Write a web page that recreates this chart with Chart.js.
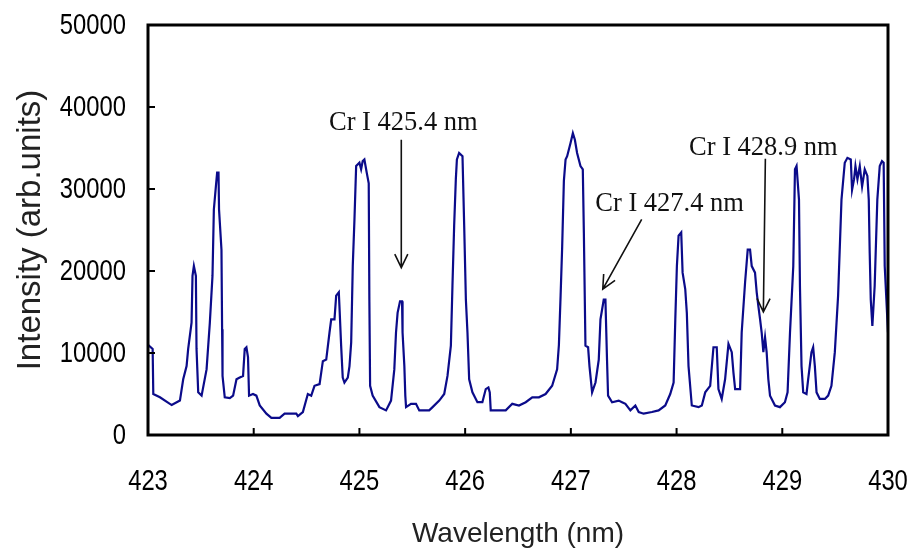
<!DOCTYPE html>
<html>
<head>
<meta charset="utf-8">
<title>Cr I emission spectrum</title>
<script src="https://cdn.jsdelivr.net/npm/chart.js@4.4.1/dist/chart.umd.min.js"></script>
<style>
    html, body { margin: 0; padding: 0; background: #fff; }
    #wrap { width: 916px; height: 559px; }
</style>
</head>
<body>
<div id="wrap"><canvas id="spectrum" width="916" height="559"></canvas></div>
<script>
// wavelength (nm) and intensity (arb. units) of the measured spectrum
var wavelength = [
    423.000, 423.044, 423.050, 423.113, 423.224, 423.302, 423.333, 423.365, 423.380, 423.412,
    423.421, 423.434, 423.453, 423.459, 423.475, 423.507, 423.554, 423.585, 423.610, 423.623,
    423.642, 423.654, 423.667, 423.672, 423.695, 423.701, 423.705, 423.726, 423.774, 423.805,
    423.837, 423.868, 423.899, 423.915, 423.931, 423.946, 423.956, 423.993, 424.025, 424.057,
    424.120, 424.167, 424.245, 424.292, 424.340, 424.403, 424.418, 424.465, 424.512, 424.544,
    424.575, 424.623, 424.654, 424.686, 424.717, 424.733, 424.764, 424.780, 424.805, 424.811,
    424.827, 424.842, 424.858, 424.890, 424.906, 424.922, 424.937, 424.953, 424.969, 425.000,
    425.016, 425.031, 425.047, 425.069, 425.088, 425.094, 425.101, 425.125, 425.189, 425.252,
    425.299, 425.330, 425.346, 425.361, 425.384, 425.403, 425.408, 425.425, 425.434, 425.441,
    425.488, 425.535, 425.566, 425.660, 425.692, 425.755, 425.802, 425.833, 425.865, 425.880,
    425.896, 425.912, 425.922, 425.943, 425.975, 425.991, 426.007, 426.022, 426.038, 426.069,
    426.116, 426.163, 426.195, 426.220, 426.233, 426.242, 426.321, 426.384, 426.446, 426.509,
    426.573, 426.635, 426.698, 426.761, 426.823, 426.870, 426.887, 426.903, 426.918, 426.934,
    426.950, 426.965, 426.997, 427.019, 427.038, 427.059, 427.091, 427.113, 427.123, 427.138,
    427.163, 427.176, 427.201, 427.233, 427.264, 427.280, 427.311, 427.327, 427.342, 427.352,
    427.390, 427.453, 427.484, 427.516, 427.563, 427.610, 427.642, 427.689, 427.767, 427.830,
    427.893, 427.940, 427.972, 427.988, 428.003, 428.019, 428.044, 428.057, 428.082, 428.097,
    428.113, 428.144, 428.208, 428.239, 428.271, 428.318, 428.349, 428.380, 428.396, 428.427,
    428.459, 428.491, 428.522, 428.538, 428.554, 428.601, 428.616, 428.648, 428.673, 428.695,
    428.711, 428.742, 428.758, 428.774, 428.790, 428.805, 428.821, 428.837, 428.852, 428.868,
    428.884, 428.931, 428.978, 429.025, 429.050, 429.073, 429.104, 429.120, 429.135, 429.158,
    429.167, 429.182, 429.198, 429.229, 429.245, 429.276, 429.292, 429.308, 429.324, 429.355,
    429.403, 429.434, 429.465, 429.497, 429.528, 429.560, 429.591, 429.616, 429.648, 429.660,
    429.679, 429.692, 429.711, 429.733, 429.755, 429.780, 429.805, 429.818, 429.827, 429.837,
    429.852, 429.874, 429.899, 429.922, 429.943, 429.959, 429.969, 430.000
];
var intensity = [
    11000, 10500, 5000, 4600, 3650, 4200, 6800, 8400, 10500, 13700,
    19400, 20600, 19400, 10500, 5200, 4800, 8000, 13700, 19400, 27500,
    30300, 32000, 32000, 27500, 22600, 12900, 7200, 4600, 4500, 4800,
    6800, 7000, 7200, 10500, 10700, 9500, 4800, 5000, 4800, 3600,
    2600, 2100, 2100, 2600, 2600, 2600, 2300, 2800, 5000, 4800,
    6000, 6200, 9000, 9200, 12500, 14100, 14100, 17000, 17400, 15700,
    10900, 7000, 6400, 7000, 8400, 11300, 20600, 26300, 32800, 33200,
    32400, 33400, 33600, 32000, 30700, 16500, 6000, 4800, 3400, 3000,
    4200, 8000, 12500, 14900, 16300, 16300, 12500, 8400, 4800, 3400,
    3800, 3800, 3000, 3000, 3400, 4200, 5000, 7200, 10900, 18200,
    25500, 31200, 33600, 34400, 34000, 25500, 16500, 12500, 6800, 5200,
    4000, 4000, 5600, 5800, 5200, 3000, 3000, 3000, 3800, 3600,
    4000, 4600, 4600, 5000, 6000, 8000, 11000, 17000, 23000, 31000,
    33600, 34000, 35600, 36800, 36000, 34400, 32800, 32400, 24700, 10900,
    10700, 8400, 5200, 6400, 9200, 14100, 16500, 16500, 9200, 4800,
    4000, 4200, 4000, 3800, 3000, 3600, 2800, 2600, 2800, 3000,
    3600, 5000, 6400, 14100, 20600, 24300, 24700, 19800, 17800, 14900,
    8400, 3600, 3400, 3600, 5200, 6000, 10700, 10700, 5600, 4400,
    6800, 11100, 10100, 7600, 5600, 5600, 12500, 18600, 22600, 22600,
    20600, 19800, 17400, 15700, 14100, 12500, 10100, 11900, 10100, 6800,
    4800, 3600, 3400, 4000, 5200, 12500, 20600, 32400, 32800, 28700,
    18200, 8400, 5200, 5000, 6800, 10100, 10700, 8400, 5200, 4400,
    4400, 4800, 6000, 10100, 17000, 28700, 33200, 33800, 33600, 29900,
    31200, 32800, 31200, 32800, 30300, 32400, 31600, 28700, 22200, 16500,
    13300, 18200, 28700, 32800, 33400, 33200, 20600, 12500
];

var xTicks = [423, 424, 425, 426, 427, 428, 429, 430];
var yTicks = [0, 10000, 20000, 30000, 40000, 50000];

// line identifications: label, where the label sits, arrow tail and arrow tip (nm, intensity)
var lineNames = ["Cr I 425.4 nm", "Cr I 427.4 nm", "Cr I 428.9 nm"];
var nameAt = [[425.415, 38100], [427.934, 28200], [428.821, 35050]];
var arrowTail = [[425.396, 36000], [427.670, 26300], [428.840, 33700]];
var arrowTip = [[425.396, 20400], [427.302, 17800], [428.821, 15000]];

var points = wavelength.map(function (w, i) {
    return { x: w, y: intensity[i] };
});

var sans = '"Liberation Sans", Arial, sans-serif';

function arrow(ctx, x0, y0, x1, y1) {
    var ang = Math.atan2(y1 - y0, x1 - x0);
    var len = 15, spread = 0.45;
    ctx.beginPath();
    ctx.moveTo(x0, y0);
    ctx.lineTo(x1, y1);
    ctx.moveTo(x1 - len * Math.cos(ang - spread), y1 - len * Math.sin(ang - spread));
    ctx.lineTo(x1, y1);
    ctx.lineTo(x1 - len * Math.cos(ang + spread), y1 - len * Math.sin(ang + spread));
    ctx.stroke();
}

// narrow tick numbers: regular sans squeezed horizontally
function narrowText(ctx, text, x, y, align) {
    ctx.save();
    ctx.translate(x, y);
    ctx.scale(0.82, 1);
    ctx.textAlign = align;
    ctx.fillText(text, 0, 0);
    ctx.restore();
}

// box frame, inward tick marks, tick numbers and the line markers
var framePlugin = {
    id: "frame",
    afterDatasetsDraw: function (chart) {
        var ctx = chart.ctx;
        var a = chart.chartArea;
        var xs = chart.scales.x, ys = chart.scales.y;
        ctx.save();
        ctx.strokeStyle = "#000";
        ctx.lineWidth = 3;
        ctx.strokeRect(a.left, a.top, a.right - a.left, a.bottom - a.top);

        ctx.lineWidth = 2;
        ctx.beginPath();
        xTicks.forEach(function (v) {
            var px = xs.getPixelForValue(v);
            ctx.moveTo(px, a.bottom);
            ctx.lineTo(px, a.bottom - 7);
        });
        yTicks.forEach(function (v) {
            var py = ys.getPixelForValue(v);
            ctx.moveTo(a.left, py);
            ctx.lineTo(a.left + 7, py);
        });
        ctx.stroke();

        ctx.fillStyle = "#000";
        ctx.font = "29px " + sans;
        ctx.textBaseline = "middle";
        xs.ticks.forEach(function (t) {
            narrowText(ctx, String(t.value), xs.getPixelForValue(t.value), a.bottom + 47, "center");
        });
        ys.ticks.forEach(function (t) {
            narrowText(ctx, String(t.value), a.left - 22, ys.getPixelForValue(t.value) + 1, "right");
        });

        ctx.fillStyle = "#111";
        ctx.strokeStyle = "#111";
        ctx.lineWidth = 1.6;
        ctx.font = '26.5px "Liberation Serif", "Times New Roman", serif';
        ctx.textAlign = "center";
        lineNames.forEach(function (name, i) {
            ctx.fillText(name, xs.getPixelForValue(nameAt[i][0]), ys.getPixelForValue(nameAt[i][1]));
            arrow(ctx,
                xs.getPixelForValue(arrowTail[i][0]), ys.getPixelForValue(arrowTail[i][1]),
                xs.getPixelForValue(arrowTip[i][0]), ys.getPixelForValue(arrowTip[i][1]));
        });
        ctx.restore();
    }
};

new Chart(document.getElementById("spectrum"), {
    type: "line",
    data: {
        datasets: [{
            data: points,
            borderColor: "#0b0b8a",
            borderWidth: 2.2,
            pointRadius: 0,
            tension: 0,
            fill: false
        }]
    },
    options: {
        responsive: false,
        animation: false,
        layout: {
            padding: { top: 25, right: 28, left: 0, bottom: 0 }
        },
        plugins: {
            legend: { display: false },
            tooltip: { enabled: false }
        },
        scales: {
            x: {
                type: "linear",
                min: 423,
                max: 430,
                afterBuildTicks: function (scale) {
                    scale.ticks = xTicks.map(function (v) { return { value: v }; });
                },
                afterFit: function (scale) { scale.height = 124; },
                grid: { display: false, drawTicks: false },
                border: { display: false },
                ticks: { display: false },
                title: {
                    display: true,
                    text: "Wavelength (nm)",
                    color: "#222",
                    font: { family: sans, size: 28 },
                    padding: { top: 0, bottom: 8 }
                }
            },
            y: {
                min: 0,
                max: 50000,
                afterBuildTicks: function (scale) {
                    scale.ticks = yTicks.map(function (v) { return { value: v }; });
                },
                afterFit: function (scale) { scale.width = 148; },
                grid: { display: false, drawTicks: false },
                border: { display: false },
                ticks: { display: false },
                title: {
                    display: true,
                    text: "Intensity (arb.units)",
                    color: "#222",
                    font: { family: sans, size: 33 },
                    padding: { top: 11, bottom: 0 }
                }
            }
        }
    },
    plugins: [framePlugin]
});
</script>
</body>
</html>
